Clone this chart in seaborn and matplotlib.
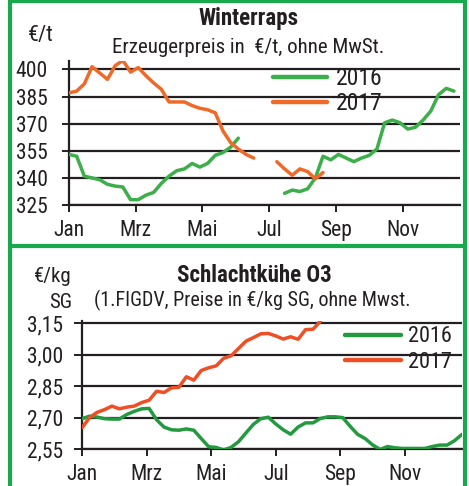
import numpy as np
import pandas as pd
import seaborn as sns
import matplotlib.pyplot as plt
from matplotlib.lines import Line2D

nan = np.nan

# week index within the year (0 = first week of Jan)
weeks_top = list(range(51))
weeks_bot = list(range(52))

month_labels = ["Jan", "Mrz", "Mai", "Jul", "Sep", "Nov"]
month_pos = [0, 8.667, 17.333, 26, 34.667, 43.333]

# Winterraps, EUR/t
raps_2016 = [353, 352, 341, 340, 339, 336.5, 335.5, 335, 328, 328, 330.5, 332, 337, 341, 344, 345,
             348, 346, 348, 352.5, 354, 357, 362, nan, nan, nan, nan, nan, 331.5, 333.3, 332.5, 334,
             340, 352, 350, 353, 351, 349, 351, 352.5, 356, 370.5, 372, 370.5, 367, 368, 372, 377,
             386, 389.5, 388]
raps_2017 = [387, 388, 392, 401.5, 398, 394.5, 402, 405, 398.5, 401, 396.5, 392.5, 389, 382, 382, 382,
             380, 378.5, 377.7, 376, 366, 359.5, 356, 353, 351, nan, nan, 349, 345, 341.5, 345, 343.5,
             339.5, 343] + [nan] * 17
raps_ticks = [325, 340, 355, 370, 385, 400]

# Schlachtkuehe O3, EUR/kg SG
kuehe_2016 = [2.695, 2.707, 2.703, 2.695, 2.693, 2.693, 2.715, 2.730, 2.742, 2.744, 2.69, 2.655, 2.642,
              2.64, 2.646, 2.64, 2.60, 2.561, 2.558, 2.545, 2.558, 2.585, 2.627, 2.668, 2.695, 2.702,
              2.67, 2.642, 2.621, 2.655, 2.675, 2.675, 2.696, 2.704, 2.704, 2.70, 2.658, 2.62, 2.600,
              2.57, 2.548, 2.562, 2.556, 2.553, 2.553, 2.553, 2.553, 2.562, 2.569, 2.569, 2.59, 2.62]
kuehe_2017 = [2.652, 2.70, 2.725, 2.738, 2.755, 2.742, 2.750, 2.755, 2.772, 2.783, 2.826, 2.82, 2.842,
              2.845, 2.895, 2.879, 2.925, 2.938, 2.947, 2.983, 2.995, 3.03, 3.065, 3.082, 3.10, 3.102,
              3.09, 3.075, 3.086, 3.074, 3.12, 3.122, 3.16] + [nan] * 19
kuehe_ticks = [2.55, 2.70, 2.85, 3.00, 3.15]


def to_long(weeks, s16, s17):
    # split at gaps so seaborn does not bridge them
    rows = []
    for year, vals in (("2016", s16), ("2017", s17)):
        seg = 0
        for w, v in zip(weeks, vals):
            if np.isnan(v):
                seg += 1
                continue
            rows.append({"week": w, "value": v, "year": year, "seg": f"{year}-{seg}"})
    return pd.DataFrame(rows)


sns.set_style("white")
plt.rcParams["font.family"] = ["Roboto Condensed", "DejaVu Sans"]

fig = plt.figure(figsize=(4.69, 4.86), dpi=100)
ax1 = fig.add_axes([0.147, 0.578, 0.834, 0.296])
ax2 = fig.add_axes([0.175, 0.076, 0.810, 0.263])
dark = "#231f20"


def style_axis(ax, yticks, ylim, xlim, fmt, ytick_len, ypad):
    ax.set_ylim(*ylim)
    ax.set_xlim(*xlim)
    ax.set_yticks(yticks)
    ax.set_yticklabels([fmt(t) for t in yticks])
    ax.set_xticks(month_pos)
    ax.set_xticklabels(month_labels)
    ax.set_xlabel("")
    ax.set_ylabel("")
    for t in yticks:
        ax.axhline(t, color=dark, lw=1.6, zorder=1)
    for s in ["top", "right"]:
        ax.spines[s].set_visible(False)
    for s in ["left", "bottom"]:
        ax.spines[s].set_color(dark)
        ax.spines[s].set_linewidth(1.6)
    ax.tick_params(axis="x", direction="out", length=5, width=1.4, color=dark,
                   labelsize=15.5, labelcolor=dark, pad=6, bottom=True)
    ax.tick_params(axis="y", direction="inout", length=ytick_len, width=1.4, color=dark,
                   labelsize=15.5, labelcolor=dark, pad=ypad, left=True)


df1 = to_long(weeks_top, raps_2016, raps_2017)
sns.lineplot(data=df1, x="week", y="value", hue="year", units="seg", estimator=None,
             palette={"2016": "#3cae4a", "2017": "#ef6a28"}, lw=2.5, ax=ax1, zorder=3)
style_axis(ax1, raps_ticks, (325, 404.5), (0, 50.8), lambda t: f"{t}", 9.5, 10.5)
ax1.legend(frameon=False, loc="upper left", bbox_to_anchor=(0.522, 0.96), fontsize=17,
           handlelength=2.3, handletextpad=0.35, labelspacing=0.1, borderpad=0, borderaxespad=0,
           labelcolor=dark)
for ln in ax1.get_legend().get_lines():
    ln.set_linewidth(3.2)

df2 = to_long(weeks_bot, kuehe_2016, kuehe_2017)
sns.lineplot(data=df2, x="week", y="value", hue="year", units="seg", estimator=None,
             palette={"2016": "#249a40", "2017": "#f04e25"}, lw=2.5, ax=ax2, zorder=3)
style_axis(ax2, kuehe_ticks, (2.55, 3.16), (0, 51), lambda t: f"{t:.2f}".replace(".", ","),
           11.5, 8)
ax2.legend(frameon=False, loc="upper left", bbox_to_anchor=(0.692, 0.96), fontsize=16,
           handlelength=2.5, handletextpad=0.35, labelspacing=0.2, borderpad=0, borderaxespad=0,
           labelcolor=dark)
for ln in ax2.get_legend().get_lines():
    ln.set_linewidth(3.2)

W, H = 469, 486
fig.text(249 / W, 1 - 18 / H, "Winterraps", ha="center", va="center", fontsize=16.5,
         fontweight="bold", color=dark)
fig.text(248 / W, 1 - 47 / H, "Erzeugerpreis in  €/t, ohne MwSt.", ha="center", va="center",
         fontsize=15, color=dark)
fig.text(28 / W, 1 - 36 / H, "€/t", ha="left", va="center", fontsize=16, color=dark)

fig.text(254 / W, 1 - 275 / H, "Schlachtkühe O3", ha="center", va="center", fontsize=16.5,
         fontweight="bold", color=dark)
fig.text(252 / W, 1 - 300 / H, "(1.FIGDV, Preise in €/kg SG, ohne Mwst.", ha="center",
         va="center", fontsize=14.5, color=dark)
fig.text(72 / W, 1 - 277 / H, "€/kg", ha="right", va="center", fontsize=15, color=dark)
fig.text(72 / W, 1 - 302 / H, "SG", ha="right", va="center", fontsize=15, color=dark)

# green frame around the two panels
frame = "#17a94b"
for xs, ys in [([9.5, 9.5], [0, H]), ([464.5, 464.5], [0, H]),
               ([9.5, 464.5], [1.5, 1.5]), ([9.5, 464.5], [246, 246])]:
    fig.add_artist(Line2D([x / W for x in xs], [1 - y / H for y in ys], color=frame, lw=3,
                          transform=fig.transFigure))

fig.savefig("out.png", dpi=100)
